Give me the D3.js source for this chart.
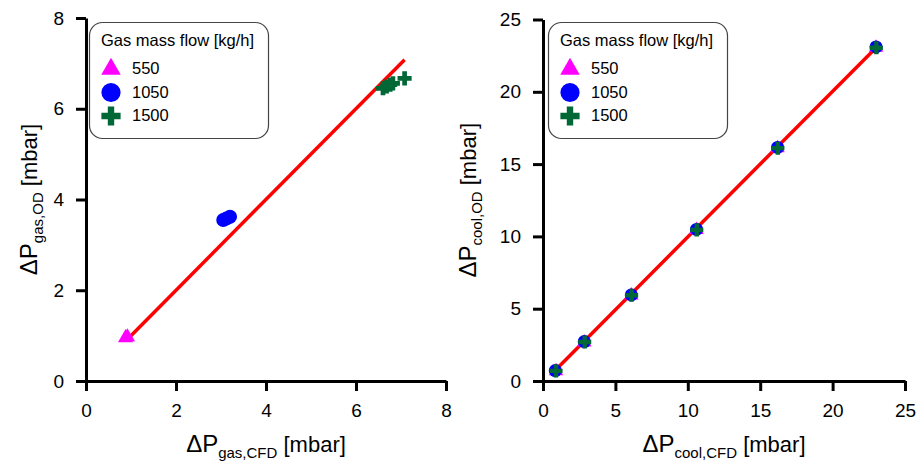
<!DOCTYPE html>
<html>
<head>
<meta charset="utf-8">
<script src="https://cdn.jsdelivr.net/npm/d3@7"></script>
<style>
  body { margin: 0; background: #fff; }
  text { font-family: "Liberation Sans", Arial, sans-serif; }
</style>
</head>
<body>
<div id="chart"></div>
<script>
// ---- data ----
var flowLabels = ["550", "1050", "1500"];
var flowColors = ["#ff00ff", "#0000ff", "#006837"];

// left panel: gas side pressure drop
var gas550  = [[0.88, 0.95], [0.92, 0.97]];
var gas1050 = [[3.05, 3.55], [3.12, 3.58], [3.2, 3.62]];
var gas1500 = [[6.6, 6.45], [6.68, 6.49], [6.76, 6.53], [6.82, 6.56], [7.08, 6.67]];
var gasLine = [[0.9, 0.9], [7.08, 7.08]];
var gasTicksX = [0, 2, 4, 6, 8];
var gasTicksY = [0, 2, 4, 6, 8];

// right panel: coolant side pressure drop
var cool550  = [[0.9, 0.68], [2.85, 2.68], [6.1, 5.92], [10.6, 10.45], [16.2, 16.1], [23.0, 23.05]];
var cool1050 = [[0.85, 0.72], [2.85, 2.72], [6.1, 5.95], [10.6, 10.48], [16.2, 16.15], [23.0, 23.1]];
var cool1500 = [[0.9, 0.7], [2.88, 2.7], [6.12, 5.93], [10.62, 10.45], [16.22, 16.1], [23.02, 23.05]];
var coolLine = [[0.85, 0.75], [23.0, 23.05]];
var coolTicksX = [0, 5, 10, 15, 20, 25];
var coolTicksY = [0, 5, 10, 15, 20, 25];

var svg = d3.select("#chart").append("svg")
    .attr("width", 917)
    .attr("height", 464);

function drawPanel(o) {
  var x = d3.scaleLinear().domain(o.xDomain).range(o.xRange);
  var y = d3.scaleLinear().domain(o.yDomain).range(o.yRange);
  var g = svg.append("g");

  // axes
  var ax = g.append("g")
      .attr("transform", "translate(0," + o.yRange[0] + ")")
      .call(d3.axisBottom(x).tickValues(o.ticksX).tickSize(10).tickSizeOuter(0).tickPadding(13));
  var ay = g.append("g")
      .attr("transform", "translate(" + o.xRange[0] + ",0)")
      .call(d3.axisLeft(y).tickValues(o.ticksY).tickSize(10).tickSizeOuter(0).tickPadding(12));
  [ax, ay].forEach(function(a) {
    a.select(".domain").attr("stroke", "#000").attr("stroke-width", 3);
    a.selectAll(".tick line").attr("stroke", "#000").attr("stroke-width", 3);
    a.selectAll(".tick text").attr("font-size", 19).attr("fill", "#000")
      .style("font-family", "'Liberation Sans', Arial, sans-serif");
  });

  // fit line
  g.append("path")
      .datum(o.line)
      .attr("fill", "none")
      .attr("stroke", "#ff0000")
      .attr("stroke-width", 3.5)
      .attr("d", d3.line().x(function(d) { return x(d[0]); }).y(function(d) { return y(d[1]); }));

  // markers
  var shapes = [d3.symbolTriangle, d3.symbolCircle, d3.symbolCross];
  o.series.forEach(function(s, i) {
    g.append("g").selectAll("path")
        .data(s)
        .enter().append("path")
        .attr("transform", function(d) { return "translate(" + x(d[0]) + "," + y(d[1]) + ")"; })
        .attr("d", d3.symbol().type(shapes[i]).size(o.sizes[i]))
        .attr("fill", flowColors[i]);
  });

  // legend
  var lg = g.append("g").attr("transform", "translate(" + o.legendX + ",22)");
  lg.append("rect")
      .attr("x", 0.5).attr("y", 0.5)
      .attr("width", 179).attr("height", 116)
      .attr("rx", 13).attr("ry", 13)
      .attr("fill", "#fff")
      .attr("stroke", "#444")
      .attr("stroke-width", 1.2);
  lg.append("text")
      .attr("x", 12).attr("y", 24)
      .attr("font-size", 16.5)
      .text("Gas mass flow [kg/h]");
  var legSizes = [165, 290, 205];
  var legY = [47, 70.5, 94];
  flowLabels.forEach(function(l, i) {
    lg.append("path")
        .attr("transform", "translate(22," + legY[i] + ")")
        .attr("d", d3.symbol().type(shapes[i]).size(legSizes[i]))
        .attr("fill", flowColors[i]);
    lg.append("text")
        .attr("x", 43).attr("y", legY[i] + 5)
        .attr("font-size", 16.5)
        .text(l);
  });

  // x title
  var tx = g.append("text")
      .attr("x", (o.xRange[0] + o.xRange[1]) / 2)
      .attr("y", 452)
      .attr("text-anchor", "middle");
  tx.append("tspan").attr("font-size", 24).text("\u0394P");
  tx.append("tspan").attr("font-size", 15).attr("dy", 6).text(o.sub + "CFD");
  tx.append("tspan").attr("font-size", 22).attr("dy", -6).text(" [mbar]");

  // y title
  var ty = g.append("text")
      .attr("transform", "translate(" + o.yTitleX + "," + (o.yRange[0] + o.yRange[1]) / 2 + ") rotate(-90)")
      .attr("text-anchor", "middle");
  ty.append("tspan").attr("font-size", 24).text("\u0394P");
  ty.append("tspan").attr("font-size", 15).attr("dy", 6).text(o.sub + "OD");
  ty.append("tspan").attr("font-size", 22).attr("dy", -6).text(" [mbar]");
}

drawPanel({
  xDomain: [0, 8], xRange: [86, 446],
  yDomain: [0, 8], yRange: [381, 18],
  ticksX: gasTicksX, ticksY: gasTicksY,
  series: [gas550, gas1050, gas1500],
  sizes: [100, 155, 110],
  line: gasLine,
  legendX: 89, yTitleX: 37, sub: "gas,"
});

drawPanel({
  xDomain: [0, 25], xRange: [543, 905],
  yDomain: [0, 25], yRange: [381, 19.5],
  ticksX: coolTicksX, ticksY: coolTicksY,
  series: [cool550, cool1050, cool1500],
  sizes: [90, 135, 95],
  line: coolLine,
  legendX: 548, yTitleX: 476, sub: "cool,"
});
</script>
</body>
</html>
